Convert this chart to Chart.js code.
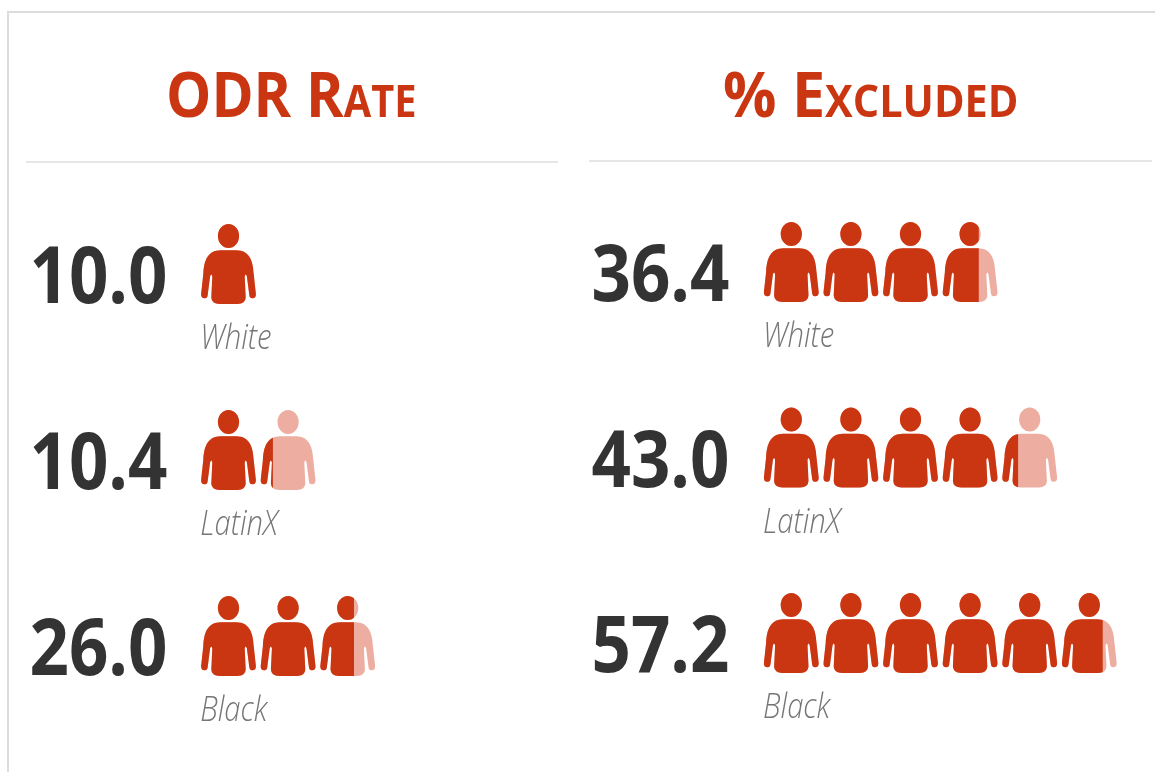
<!DOCTYPE html>
<html>
<head>
<meta charset="utf-8">
<script src="https://cdn.jsdelivr.net/npm/chart.js@4"></script>
<style>
html,body{margin:0;padding:0;background:#fff;}
body{width:1155px;height:772px;overflow:hidden;position:relative;}
canvas{position:absolute;top:0;filter:blur(0.6px);}
#frame{position:absolute;left:7px;top:11px;width:1148px;height:761px;border-left:2px solid #dcdcdc;border-top:2px solid #dcdcdc;box-sizing:border-box;}
.rule{position:absolute;height:2px;background:#e6e6e6;}
</style>
</head>
<body>
<div id="frame"></div>
<div class="rule" style="left:26px;top:161px;width:532px"></div>
<div class="rule" style="left:589px;top:160px;width:563px"></div>
<canvas id="odr" width="575" height="772" style="left:0"></canvas>
<canvas id="excl" width="580" height="772" style="left:575px"></canvas>
<script>
const groups = ['White', 'LatinX', 'Black'];

const odrTitle = 'ODR Rate';
const odrLabels = ['10.0', '10.4', '26.0'];
const odrFilled = [10.0, 12.4, 26.0];
const odrIcons = [10, 20, 30];

const exclTitle = '% Excluded';
const exclLabels = ['36.4', '43.0', '57.2'];
const exclFilled = [36.4, 43.0, 57.2];
const exclIcons = [40, 50, 60];

const DARK = '#cb3612', LIGHT = '#edaea1', INK = '#333333', SOFT = '#767676';

function personPath(ctx, cx, top) {
  const side = (s) => {
    const X = (d) => cx + s * d, Y = (d) => top + d;
    return {X, Y};
  };
  // head
  ctx.moveTo(cx + 10.6, top + 12);
  ctx.ellipse(cx, top + 12, 10.6, 12, 0, 0, Math.PI * 2);
  // body: right half going down, left half coming back
  let {X, Y} = side(1);
  ctx.moveTo(X(0), Y(26.2));
  ctx.lineTo(X(8), Y(26.2));
  ctx.bezierCurveTo(X(20.5), Y(26.4), X(24.6), Y(36), X(25.2), Y(50));
  ctx.lineTo(X(27.4), Y(70));
  ctx.quadraticCurveTo(X(27.6), Y(74.2), X(24), Y(74.2));
  ctx.lineTo(X(23.4), Y(74.2));
  ctx.quadraticCurveTo(X(21.2), Y(74.2), X(20.8), Y(71));
  ctx.lineTo(X(18.4), Y(52.5));
  ctx.quadraticCurveTo(X(17.2), Y(48.5), X(16.2), Y(52.5));
  ctx.lineTo(X(17.2), Y(73.5));
  ctx.quadraticCurveTo(X(17), Y(79.6), X(9), Y(80));
  ctx.lineTo(X(0), Y(80));
  ({X, Y} = side(-1));
  ctx.lineTo(X(9), Y(80));
  ctx.quadraticCurveTo(X(17), Y(79.6), X(17.2), Y(73.5));
  ctx.lineTo(X(16.2), Y(52.5));
  ctx.quadraticCurveTo(X(17.2), Y(48.5), X(18.4), Y(52.5));
  ctx.lineTo(X(20.8), Y(71));
  ctx.quadraticCurveTo(X(21.2), Y(74.2), X(23.4), Y(74.2));
  ctx.lineTo(X(24), Y(74.2));
  ctx.quadraticCurveTo(X(27.6), Y(74.2), X(27.4), Y(70));
  ctx.lineTo(X(25.2), Y(50));
  ctx.bezierCurveTo(X(24.6), Y(36), X(20.5), Y(26.4), X(8), Y(26.2));
  ctx.closePath();
}

function scaledText(ctx, text, x, y, sx) {
  ctx.save();
  ctx.translate(x, y);
  ctx.scale(sx, 1);
  ctx.fillText(text, 0, 0);
  ctx.restore();
}

const pictogram = {
  id: 'pictogram',
  beforeDatasetsDraw(chart) {
    const {ctx, scales: {x, y}} = chart;
    const slots = chart.data.datasets[1].data;
    ctx.save();
    ctx.beginPath();
    slots.forEach((v, row) => {
      for (let u = 0; u < v; u += 10) {
        personPath(ctx, x.getPixelForValue(u + 5), y.getPixelForValue(row) - 40);
      }
    });
    ctx.clip();
  },
  afterDatasetsDraw(chart) {
    chart.ctx.restore();
  },
  afterDraw(chart, args, o) {
    const {ctx, scales: {x, y}} = chart;
    ctx.save();
    // panel heading
    ctx.fillStyle = DARK;
    ctx.textAlign = 'left';
    ctx.textBaseline = 'alphabetic';
    ctx.font = 'bold 63px "Open Sans"';
    ctx.fontVariantCaps = 'small-caps';
    scaledText(ctx, o.title, o.titleX, 117, o.titleScale);
    ctx.fontVariantCaps = 'normal';
    // values and group names, placed on the category scale
    groups.forEach((g, row) => {
      const c = y.getPixelForValue(row);
      ctx.fillStyle = INK;
      ctx.textAlign = 'right';
      ctx.font = 'bold 78px "Open Sans"';
      scaledText(ctx, o.values[row], o.valueX, c + 39, 0.885);
      ctx.fillStyle = SOFT;
      ctx.textAlign = 'left';
      ctx.font = 'italic 300 34px "Open Sans"';
      scaledText(ctx, g, x.getPixelForValue(0) + 1.5, c + 85, 0.86);
    });
    ctx.restore();
  }
};

function panel(id, filled, icons, opts, pad) {
  return new Chart(document.getElementById(id), {
    type: 'bar',
    data: {
      labels: groups,
      datasets: [
        {data: filled, backgroundColor: DARK, grouped: false, barThickness: 84, borderWidth: 0},
        {data: icons, backgroundColor: LIGHT, grouped: false, barThickness: 84, borderWidth: 0}
      ]
    },
    options: {
      indexAxis: 'y',
      responsive: false,
      animation: false,
      events: [],
      layout: {padding: pad},
      scales: {
        x: {display: false, min: 0, max: 60},
        y: {display: false}
      },
      plugins: {legend: {display: false}, tooltip: {enabled: false}, pictogram: opts}
    },
    plugins: [pictogram]
  });
}

panel('odr', odrFilled, odrIcons,
  {title: odrTitle, titleX: 166, titleScale: 0.905, values: odrLabels, valueX: 167.5},
  {left: 198.7, right: 575 - 556.3, top: 171, bottom: 772 - 729});
panel('excl', exclFilled, exclIcons,
  {title: exclTitle, titleX: 148, titleScale: 0.942, values: exclLabels, valueX: 154.5},
  {left: 186.5, right: 580 - 544.1, top: 169.25, bottom: 772 - 725.75});
</script>
</body>
</html>
